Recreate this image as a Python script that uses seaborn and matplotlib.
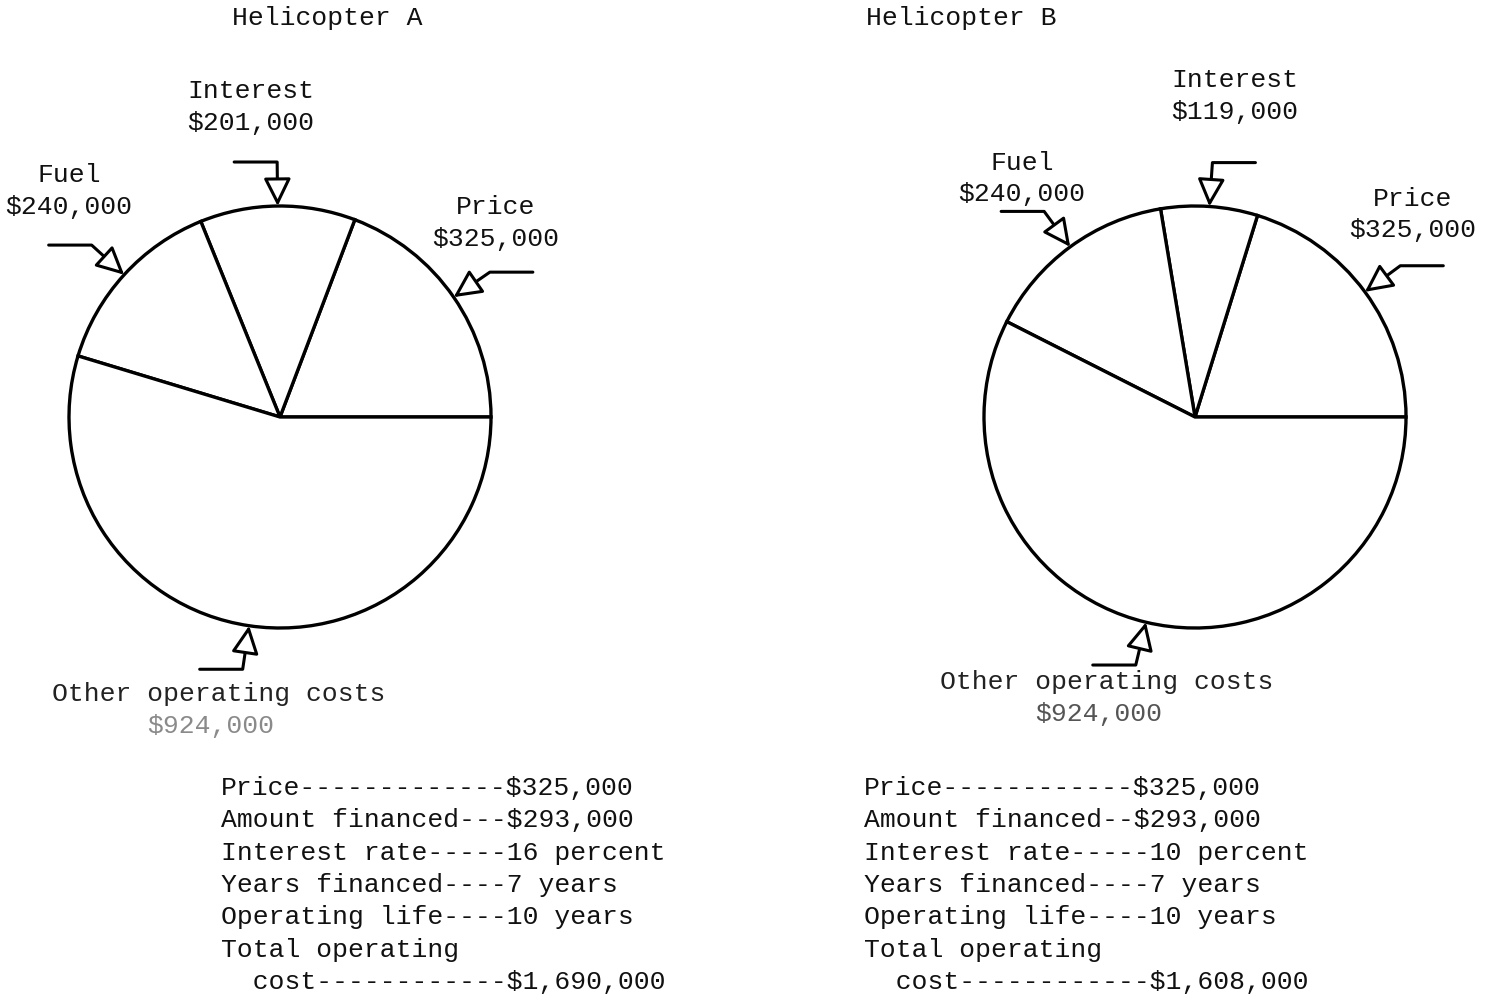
import numpy as np
import matplotlib.pyplot as plt
import seaborn as sns

# cost breakdown of each helicopter (dollars)
categories = ["Price", "Interest", "Fuel", "Other operating costs"]
costs_a = [325000, 201000, 240000, 924000]
costs_b = [325000, 119000, 240000, 924000]

titles = ["Helicopter A", "Helicopter B"]

spec_a = [
    "Price-------------$325,000",
    "Amount financed---$293,000",
    "Interest rate-----16 percent",
    "Years financed----7 years",
    "Operating life----10 years",
    "Total operating",
    "  cost------------$1,690,000",
]
spec_b = [
    "Price------------$325,000",
    "Amount financed--$293,000",
    "Interest rate-----10 percent",
    "Years financed----7 years",
    "Operating life----10 years",
    "Total operating",
    "  cost------------$1,608,000",
]

sns.set_theme(style="white")
plt.rcParams["font.family"] = ["Liberation Mono", "DejaVu Sans Mono"]

W, H = 1495, 998
fig = plt.figure(figsize=(W / 100, H / 100), dpi=100)
fig.patch.set_facecolor("white")
ax = fig.add_axes([0, 0, 1, 1])

R = 211
FS = 19

# layout of each chart (pixel coords, y up)
charts = [
    dict(values=costs_a, spec=spec_a, title=titles[0], center=(280, H - 417),
         title_xy=(232, H - 18), spec_xy=(221, H - 788),
         # label offsets in radii, arrow tail side (-1 left / +1 right)
         label_off=[(1.02, 0.92), (-0.14, 1.47), (-1.0, 1.07), (-0.29, -1.39)],
         tail_side=[1, -1, -1, -1],
         other_color="#8a8a8a"),
    dict(values=costs_b, spec=spec_b, title=titles[1], center=(1195, H - 417),
         title_xy=(866, H - 18), spec_xy=(864, H - 788),
         label_off=[(1.03, 0.96), (0.19, 1.52), (-0.82, 1.13), (-0.42, -1.33)],
         tail_side=[1, 1, -1, -1],
         other_color="#555555"),
]

for ch in charts:
    cx, cy = ch["center"]
    wedges, _ = ax.pie(
        ch["values"], center=(cx, cy), radius=R, startangle=0,
        counterclock=True,
        wedgeprops=dict(facecolor="white", edgecolor="black", linewidth=2.4),
    )

    for i, w in enumerate(wedges):
        mid = np.deg2rad((w.theta1 + w.theta2) / 2)
        tip = (cx + R * np.cos(mid), cy + R * np.sin(mid))
        corner = (tip[0] + 44 * np.cos(mid), tip[1] + 44 * np.sin(mid))
        tail = (corner[0] + ch["tail_side"][i] * 43, corner[1])
        ax.annotate(
            "", xy=tip, xytext=tail,
            arrowprops=dict(
                arrowstyle="-|>,head_length=0.85,head_width=0.42",
                connectionstyle=f"angle,angleA=0,angleB={np.rad2deg(mid):.2f},rad=0",
                fc="white", ec="black", lw=2.2, shrinkA=0, shrinkB=0,
                mutation_scale=20,
            ),
        )

        ox, oy = ch["label_off"][i]
        lx, ly = cx + ox * R, cy + oy * R
        name = categories[i]
        value = f"${ch['values'][i]:,}"
        if i == 3:
            ax.text(lx, ly + 16, name, ha="center", va="center", fontsize=FS,
                    color="#222222")
            ax.text(lx - 8, ly - 16, value, ha="center", va="center",
                    fontsize=FS, color=ch["other_color"])
        else:
            ax.text(lx, ly, f"{name}\n{value}", ha="center", va="center",
                    fontsize=FS, color="#111111", linespacing=1.4)

    ax.text(*ch["title_xy"], ch["title"], ha="left", va="center", fontsize=FS,
            color="#111111")

    sx, sy = ch["spec_xy"]
    for j, line in enumerate(ch["spec"]):
        ax.text(sx, sy - j * 32.3, line, ha="left", va="center", fontsize=FS,
                color="#111111")

ax.set_xlim(0, W)
ax.set_ylim(0, H)
ax.set_aspect("equal")
ax.axis("off")

fig.savefig("out.png", dpi=100, facecolor="white")
plt.close(fig)
